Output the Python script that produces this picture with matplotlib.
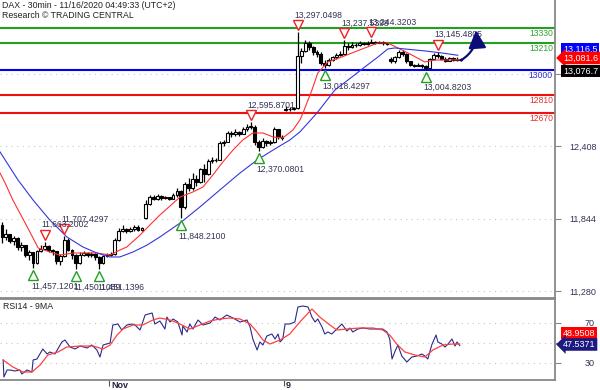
import numpy as np
import matplotlib
matplotlib.use("Agg")
import matplotlib.pyplot as plt
import matplotlib.transforms as mtransforms

plt.rcParams['font.family'] = ['Liberation Sans', 'DejaVu Sans']

# hourly-ish candles, index 0 = Oct 28 afternoon, last = Nov 13 close
opens = [11790, 11700, 11720, 11670, 11690, 11620, 11640, 11560, 11580, 11500,
         11590, 11610, 11630, 11600, 11590, 11510, 11550, 11680, 11600, 11560,
         11500, 11560, 11575, 11560, 11570, 11540, 11500, 11550, 11560, 11570,
         11680, 11750, 11765, 11745, 11760, 11780, 11755, 11850, 11960, 12010,
         12000, 12020, 12005, 12010, 12000, 12025, 12060, 11930, 12110, 12080,
         12150, 12130, 12230, 12190, 12290, 12300, 12300, 12430, 12440, 12510,
         12500, 12520, 12505, 12540, 12560, 12560, 12440, 12400, 12450, 12430,
         12440, 12540, 12480, 12690, 12700, 12695, 12705, 13110, 13150, 13210,
         13180, 13140, 13130, 13060, 13040, 13080, 13100, 13120, 13130, 13190,
         13180, 13200, 13195, 13210, 13205, 13215, 13220, 13215, 13220, 13210,
         13090, 13070, 13100, 13140, 13130, 13070, 13040, 13035, 13045, 13030,
         13020, 13085, 13120, 13110, 13090, 13075, 13095, 13080, 13090]
closes = [11700, 11720, 11670, 11690, 11620, 11640, 11560, 11580, 11500, 11590,
          11610, 11630, 11600, 11590, 11510, 11550, 11680, 11600, 11560, 11500,
          11560, 11575, 11560, 11570, 11540, 11500, 11550, 11560, 11570, 11680,
          11750, 11765, 11745, 11760, 11780, 11755, 11770, 11960, 12010, 12000,
          12020, 12005, 12010, 12000, 12025, 12060, 11930, 12110, 12080, 12150,
          12130, 12230, 12190, 12290, 12300, 12300, 12430, 12440, 12510, 12500,
          12520, 12505, 12540, 12560, 12560, 12440, 12400, 12450, 12430, 12440,
          12540, 12480, 12475, 12700, 12695, 12705, 13110, 13150, 13210, 13180,
          13140, 13130, 13060, 13040, 13080, 13100, 13120, 13130, 13190, 13180,
          13200, 13195, 13210, 13205, 13215, 13220, 13215, 13220, 13210, 13205,
          13070, 13100, 13140, 13130, 13070, 13040, 13035, 13045, 13030, 13020,
          13085, 13120, 13110, 13090, 13075, 13095, 13080, 13090, 13077]
highs = [11815, 11760, 11720, 11710, 11700, 11660, 11640, 11600, 11580, 11600,
         11640, 11663, 11640, 11610, 11590, 11570, 11707, 11690, 11610, 11570,
         11580, 11590, 11585, 11580, 11575, 11550, 11560, 11575, 11580, 11690,
         11770, 11790, 11770, 11780, 11795, 11790, 11780, 11990, 12030, 12030,
         12035, 12025, 12020, 12015, 12040, 12085, 12070, 12130, 12160, 12200,
         12180, 12240, 12270, 12310, 12320, 12315, 12450, 12460, 12530, 12530,
         12540, 12530, 12560, 12580, 12596, 12570, 12460, 12470, 12460, 12460,
         12560, 12540, 12495, 12720, 12715, 12715, 13297, 13170, 13235, 13230,
         13190, 13160, 13140, 13080, 13095, 13115, 13135, 13150, 13237, 13210,
         13220, 13215, 13225, 13220, 13230, 13244, 13230, 13232, 13225, 13215,
         13100, 13110, 13160, 13155, 13135, 13075, 13050, 13055, 13050, 13040,
         13095, 13135, 13145, 13120, 13100, 13105, 13100, 13105, 13095]
lows = [11650, 11680, 11650, 11640, 11600, 11590, 11540, 11520, 11457, 11490,
        11580, 11600, 11580, 11560, 11490, 11480, 11540, 11590, 11530, 11450,
        11490, 11550, 11540, 11545, 11520, 11451, 11490, 11540, 11550, 11560,
        11670, 11740, 11730, 11740, 11750, 11745, 11750, 11840, 11950, 11985,
        11990, 11990, 11995, 11985, 11995, 12010, 11848, 11920, 12060, 12070,
        12100, 12120, 12130, 12180, 12280, 12285, 12300, 12410, 12440, 12480,
        12490, 12490, 12500, 12530, 12540, 12420, 12370, 12390, 12410, 12420,
        12430, 12465, 12460, 12680, 12685, 12690, 12700, 13060, 13140, 13160,
        13120, 13100, 13040, 13018, 13030, 13070, 13090, 13110, 13120, 13160,
        13170, 13180, 13190, 13195, 13200, 13210, 13205, 13210, 13200, 13195,
        13060, 13060, 13095, 13110, 13055, 13030, 13025, 13030, 13020, 13005,
        13015, 13080, 13095, 13080, 13065, 13070, 13070, 13075, 13070]

# moving averages, sampled (bar position, value)
fast_ma_bar = [-0.5, 0.8, 2.8, 5.4, 8.0, 9.3, 12.3, 14.9, 18.3, 24.4, 27.8, 30.3,
               32.1, 35.5, 38.8, 40.6, 45.8, 49.1, 51.7, 54.2, 56.8, 59.4, 61.9,
               64.5, 67.1, 69.7, 72.2, 74.8, 76.6, 77.4, 79.7, 81.2, 83.8, 87.4,
               90.0, 93.3, 96.7, 99.2, 101.8, 105.4, 108.7, 111.3, 113.9, 117.7]
fast_ma_val = [12199, 12121, 11988, 11841, 11691, 11614, 11583, 11559, 11575,
               11575, 11559, 11598, 11622, 11715, 11817, 11871, 12012, 12051,
               12090, 12183, 12285, 12378, 12456, 12511, 12511, 12480, 12472,
               12534, 12612, 12667, 12846, 12979, 13065, 13104, 13135, 13174,
               13213, 13213, 13174, 13119, 13065, 13080, 13080, 13082]
slow_ma_bar = [-0.5, 4.1, 8.0, 12.3, 16.7, 20.8, 24.4, 27.8, 30.3, 33.7, 37.3,
               40.6, 45.8, 50.9, 56.0, 61.2, 65.6, 69.7, 74.0, 76.6, 81.0, 85.6,
               90.0, 93.3, 96.7, 99.2, 101.0, 103.6, 108.7, 113.1, 117.2]
slow_ma_val = [12363, 12145, 11988, 11832, 11700, 11622, 11575, 11544, 11544,
               11583, 11637, 11700, 11809, 11934, 12066, 12199, 12300, 12378,
               12456, 12519, 12667, 12846, 12948, 13026, 13104, 13166, 13174,
               13166, 13151, 13135, 13117]

# RSI14 and its 9-period MA
rsi_bar = [0.3, 0.5, 1.3, 2.1, 3.3, 4.6, 5.1, 6.4, 7.7, 8.0, 9.0, 10.5, 11.6,
           12.3, 13.6, 15.4, 16.2, 17.5, 18.8, 20.1, 21.9, 23.1, 24.4, 25.2,
           26.0, 27.8, 28.5, 29.8, 30.8, 32.1, 33.4, 34.2, 35.5, 36.8, 38.6,
           39.3, 40.6, 41.9, 42.4, 43.2, 44.0, 45.2, 46.3, 46.5, 47.6, 48.3,
           49.1, 50.4, 51.7, 53.5, 54.8, 56.0, 57.8, 59.4, 61.2, 63.0, 63.8,
           64.5, 65.6, 66.3, 67.1, 68.1, 69.4, 70.2, 71.0, 71.5, 72.2, 72.8,
           74.0, 75.3, 76.1, 77.4, 78.7, 79.7, 80.5, 81.2, 82.3, 83.0, 83.8,
           84.8, 86.1, 87.4, 88.7, 89.5, 90.2, 91.5, 92.8, 94.6, 96.4, 97.9,
           99.0, 99.7, 100.3, 101.0, 101.8, 102.8, 104.1, 105.4, 106.7, 108.0,
           108.7, 109.5, 110.5, 111.6, 112.1, 113.1, 113.9, 114.7, 115.7,
           116.5, 117.0, 117.7]
rsi_val = [33, 16, 23, 23, 22, 23, 19, 23, 21, 33, 34, 44, 39, 41, 39, 51, 53,
           46, 44, 47, 45, 48, 43, 36, 48, 50, 68, 69, 63, 68, 69, 68, 63, 78,
           80, 69, 72, 64, 76, 71, 74, 71, 58, 67, 61, 69, 64, 73, 68, 70, 76,
           73, 78, 75, 71, 73, 66, 54, 43, 51, 48, 57, 59, 54, 59, 51, 54, 69,
           69, 71, 86, 87, 86, 76, 71, 74, 66, 59, 61, 59, 64, 69, 62, 65, 61,
           64, 65, 64, 64, 64, 61, 54, 34, 41, 48, 37, 31, 36, 37, 39, 37, 34,
           48, 58, 51, 49, 46, 49, 54, 47, 51, 47.54]
rsi_ma_bar = [0.3, 2.8, 5.4, 7.7, 9.8, 11.8, 14.4, 16.7, 20.1, 23.4, 26.0, 27.8,
              29.6, 31.1, 33.7, 36.2, 38.8, 40.6, 43.2, 45.8, 48.3, 50.9, 53.5,
              56.0, 58.6, 61.2, 63.8, 65.6, 67.1, 68.9, 71.5, 74.0, 76.6, 79.7,
              81.7, 84.3, 86.1, 88.7, 92.0, 95.4, 97.9, 99.7, 101.5, 103.6,
              106.2, 108.7, 110.8, 113.4, 115.9, 117.7]
rsi_ma_val = [33, 26, 21, 21, 28, 38, 41, 46, 47, 47, 44, 48, 58, 64, 68, 68,
              73, 75, 73, 69, 64, 68, 72, 74, 75, 74, 69, 61, 53, 49, 53, 59,
              71, 84, 76, 68, 63, 64, 65, 65, 63, 58, 49, 41, 38, 36, 43, 48,
              49, 48.95]

peak_bars = [11, 16, 64, 76, 88, 95, 112]
peak_labels = ['11,663.2002', '11,707.4297', '12,595.8701', '13,297.0498',
               '13,237.5398', '13,244.3203', '13,145.4805']
trough_bars = [8, 19, 25, 46, 66, 83, 109]
trough_labels = ['11,457.1201', '11,450.1089', '11,451.1396', '11,848.2100',
                 '12,370.0801', '13,018.4297', '13,004.8203']

levels = [13330, 13210, 13000, 12810, 12670]
level_colors = ['#22a022', '#22a022', '#0000ee', '#ee1111', '#ee1111']
level_text_colors = ['#30a030', '#30a030', '#3030c8', '#e83030', '#e83030']

price_ticks = [11280, 11844, 12408, 12972]
price_tick_labels = ['11,280', '11,844', '12,408', '']
rsi_ticks = [30, 50, 70]
rsi_tick_labels = ['30', '', '70']
date_ticks = [27.5, 72.5]
date_labels = ['Nov', '9']

TXT = '#333355'
W, H = 600, 390

fig = plt.figure(figsize=(6, 3.9), dpi=100)
ax = fig.add_axes([0, 1 - 297.5 / H, 555 / W, 297.5 / H])
ax_rsi = fig.add_axes([0, 1 - 379.5 / H, 555 / W, 81 / H])

xlim = (-0.51, 142.2)

# ---- price panel
ax.set_xlim(*xlim)
ax.set_ylim(11228, 13548)
for lv, col in zip(levels, level_colors):
    ax.axhline(lv, color=col, lw=1.5, zorder=1.5)
lbl_tr = mtransforms.offset_copy(
    mtransforms.blended_transform_factory(ax.transAxes, ax.transData),
    fig=fig, x=-2, y=-1, units='dots')
for lv, col in zip(levels, level_text_colors):
    ax.text(1.0, lv, str(lv), transform=lbl_tr, ha='right', va='top',
            color=col, fontsize=6.2)

x = np.arange(len(closes))
o = np.array(opens, float)
c = np.array(closes, float)
up = c >= o
ax.vlines(x, lows, highs, color='black', lw=0.9, zorder=2)
ax.bar(x, np.maximum(np.abs(c - o), 4), bottom=np.minimum(o, c), width=0.72,
       color=np.where(up, 'white', 'black'), edgecolor='black', linewidth=0.8,
       zorder=2.5)

ax.plot(fast_ma_bar, fast_ma_val, color='#ff3030', lw=0.8, zorder=3)
ax.plot(slow_ma_bar, slow_ma_val, color='#3535e0', lw=0.8, zorder=3)

tri_up = mtransforms.offset_copy(ax.transData, fig=fig, y=7, units='dots')
txt_up = mtransforms.offset_copy(ax.transData, fig=fig, x=-3, y=17, units='dots')
for b, lab in zip(peak_bars, peak_labels):
    ax.plot(b, highs[b], marker='v', ms=6.5, mfc='white', mec='#ee2222',
            mew=1, transform=tri_up, zorder=4)
    ax.text(b, highs[b], lab, transform=txt_up, ha='left', va='center',
            fontsize=6.2, color=TXT, zorder=5)
tri_dn = mtransforms.offset_copy(ax.transData, fig=fig, y=-7, units='dots')
txt_dn = mtransforms.offset_copy(ax.transData, fig=fig, x=-2, y=-18, units='dots')
for b, lab in zip(trough_bars, trough_labels):
    ax.plot(b, lows[b], marker='^', ms=6.5, mfc='white', mec='#22a022',
            mew=1, transform=tri_dn, zorder=4)
    ax.text(b, lows[b], lab, transform=txt_dn, ha='left', va='center',
            fontsize=6.2, color=TXT, zorder=5)

ax.annotate('', xy=(121.9, 13312), xytext=(len(closes) - 1, closes[-1]),
            arrowprops=dict(arrowstyle='-|>,head_length=0.9,head_width=0.45',
                            connectionstyle='arc3,rad=0.3', color='#0b0b7a',
                            lw=1.6, shrinkA=0, shrinkB=0, mutation_scale=12),
            zorder=6)

ax.set_yticks(price_ticks)
ax.set_yticklabels(price_tick_labels)
ax.yaxis.tick_right()
ax.tick_params(axis='y', length=4, width=0.8, color='#888888', pad=6,
               labelsize=6.5, labelcolor=TXT)
ax.set_xticks([])
ax.grid(axis='y', color='#c8c8c8', ls=(0, (1, 4)), lw=0.8)
for s in ['top', 'left']:
    ax.spines[s].set_visible(False)
for s in ['right', 'bottom']:
    ax.spines[s].set_color('#888888')
    ax.spines[s].set_linewidth(1.3)


def side_box(axis, value, text, color, dy, arrow=False):
    tr = mtransforms.offset_copy(
        mtransforms.blended_transform_factory(axis.transAxes, axis.transData),
        fig=fig, x=8, y=dy, units='dots')
    style = 'larrow,pad=0.2' if arrow else 'square,pad=0.2'
    axis.text(1.0, value, text, transform=tr, ha='left', va='center',
              color='white', fontsize=6.5, clip_on=False, zorder=7,
              bbox=dict(boxstyle=style, fc=color, ec='none'))


side_box(ax, slow_ma_val[-1], '13,116.5', '#0000ff', 6.4)
side_box(ax, fast_ma_val[-1], '13,081.6', '#ff0000', 1.8, arrow=True)
side_box(ax, closes[-1], '13,076.7', '#000000', -10.5)

fig.text(2 / W, 1 - 6 / H, 'DAX - 30min - 11/16/2020 04:49:33 (UTC+2)',
         fontsize=6.3, color='#222222', va='center')
fig.text(2 / W, 1 - 16 / H, 'Research \u00a9 TRADING CENTRAL',
         fontsize=6.3, color='#222222', va='center')

# ---- RSI panel
ax_rsi.set_xlim(*xlim)
ax_rsi.set_ylim(13.5, 94.5)
ax_rsi.plot(rsi_bar, rsi_val, color='#2a2a8c', lw=0.8, zorder=3)
ax_rsi.plot(rsi_ma_bar, rsi_ma_val, color='#ff4040', lw=0.9, zorder=3)
ax_rsi.set_yticks(rsi_ticks)
ax_rsi.set_yticklabels(rsi_tick_labels)
ax_rsi.yaxis.tick_right()
ax_rsi.tick_params(axis='y', length=4, width=0.8, color='#888888', pad=17,
                   labelsize=6.5, labelcolor=TXT)
ax_rsi.set_xticks(date_ticks)
ax_rsi.set_xticklabels(date_labels, ha='left', fontweight='bold')
ax_rsi.tick_params(axis='x', length=4, width=0.8, color='#555555', pad=-3.2,
                   labelsize=6.5, labelcolor='#222244')
shift = mtransforms.ScaledTranslation(2 / 100, 0, fig.dpi_scale_trans)
for t in ax_rsi.get_xticklabels():
    t.set_transform(t.get_transform() + shift)
ax_rsi.grid(axis='y', color='#c8c8c8', ls=(0, (1, 4)), lw=0.8)
ax_rsi.spines['left'].set_visible(False)
for s in ['right', 'bottom', 'top']:
    ax_rsi.spines[s].set_color('#888888')
    ax_rsi.spines[s].set_linewidth(1.3)
ax_rsi.text(3 / 555, 0.9, 'RSI14 - 9MA', transform=ax_rsi.transAxes,
            fontsize=6.3, color='#222222', va='center')

side_box(ax_rsi, rsi_ma_val[-1], '48.9508', '#ff0000', 11)
side_box(ax_rsi, rsi_val[-1], '47.5371', '#1a1a80', 1, arrow=True)

fig.savefig('out.png', dpi=100)
